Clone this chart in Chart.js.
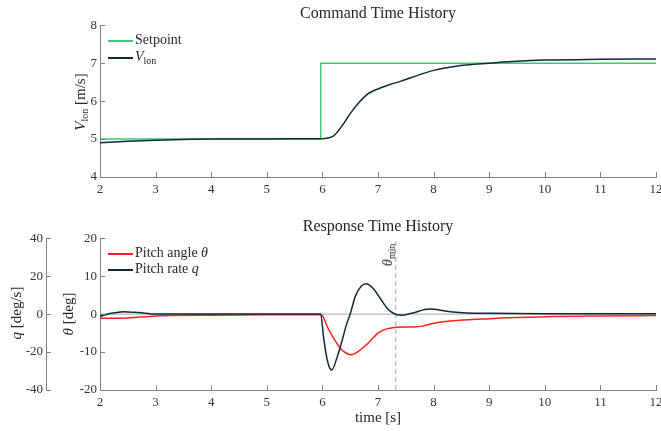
<!DOCTYPE html>
<html>
<head>
<meta charset="utf-8">
<script src="https://cdn.jsdelivr.net/npm/chart.js@4.4.1/dist/chart.umd.min.js"></script>
<style>
  body { margin: 0; background: #fff; }
  #wrap { position: relative; width: 661px; height: 431px; font-family: 'Liberation Serif', serif; color: #262626; }
  canvas { position: absolute; left: 0; }
  #top { top: 0; }
  #bottom { top: 200px; }
  .lbl { position: absolute; white-space: nowrap; font-size: 15px; line-height: 1; }
  .rot { transform: translate(-50%, -50%) rotate(-90deg); }
  .leg { position: absolute; left: 108px; font-size: 14px; line-height: 1; white-space: nowrap; transform: translateY(-50%); }
  .leg span.ln { display: inline-block; width: 25px; height: 2px; vertical-align: middle; margin-right: 2px; }
  sub { font-size: 10px; vertical-align: -3px; line-height: 0; }
  i { font-style: italic; }
</style>
</head>
<body>
<div id="wrap">
  <canvas id="top" width="661" height="200"></canvas>
  <canvas id="bottom" width="661" height="231"></canvas>

  <div class="leg" style="top:40px"><span class="ln" style="background:#3ccc6a"></span>Setpoint</div>
  <div class="leg" style="top:57px"><span class="ln" style="background:#0e2a3a"></span><i>V</i><sub>lon</sub></div>
  <div class="lbl rot" style="left:80px; top:102px"><i>V</i><sub>lon</sub> [m/s]</div>

  <div class="leg" style="top:253px"><span class="ln" style="background:#ff2020"></span>Pitch angle <i>θ</i></div>
  <div class="leg" style="top:269px"><span class="ln" style="background:#0e2a3a"></span>Pitch rate <i>q</i></div>
  <div class="lbl rot" style="left:68px; top:314px"><i>θ</i> [deg]</div>
  <div class="lbl rot" style="left:16px; top:313px"><i>q</i> [deg/s]</div>
  <div class="lbl rot" style="left:388px; top:255px; font-size:14px"><i>θ</i><sub>min</sub></div>
</div>

<script>
// command history
const timeV = [2, 2.5, 3, 3.5, 4, 5, 5.8, 6, 6.1, 6.2, 6.35, 6.5, 6.65, 6.8, 6.9, 7, 7.2, 7.4, 7.6, 8, 8.4, 9, 9.5, 10, 11, 12];
const vLon = [4.90, 4.94, 4.97, 4.99, 5.0, 5.0, 5.01, 5.01, 5.03, 5.08, 5.34, 5.67, 5.95, 6.17, 6.26, 6.32, 6.43, 6.52, 6.62, 6.81, 6.92, 7.0, 7.05, 7.08, 7.10, 7.11];
const timeSet = [2, 5.97, 5.97, 12];
const setpoint = [5, 5, 7, 7];

// response history
const timeTheta = [2, 2.35, 3, 4, 5, 5.98, 6.1, 6.22, 6.34, 6.46, 6.52, 6.64, 6.82, 7.0, 7.15, 7.3, 7.5, 7.65, 7.82, 8.0, 8.3, 9.0, 10, 11, 12];
const theta = [-1.1, -1.1, -0.5, -0.3, -0.2, -0.2, -3.7, -6.8, -9.3, -10.5, -10.7, -9.9, -7.7, -5.0, -3.9, -3.5, -3.4, -3.4, -3.1, -2.4, -1.8, -1.2, -0.7, -0.5, -0.4];
const timeQ = [2, 2.2, 2.42, 2.7, 3, 4, 5, 5.97, 6.02, 6.07, 6.12, 6.17, 6.26, 6.35, 6.43, 6.5, 6.59, 6.7, 6.79, 6.91, 7.06, 7.18, 7.31, 7.42, 7.6, 7.92, 8.3, 8.6, 9, 10, 12];
const qRate = [-1.2, 0.4, 1.3, 0.8, 0, 0, 0, 0, -12, -21.6, -27.6, -29.4, -23.2, -14.4, -5.8, 0, 9.2, 14.8, 16, 13.6, 7.4, 2.6, 0, -0.6, 0.4, 2.7, 1.3, 0.6, 0.4, 0.2, 0.2];
const thetaMinTime = 7.32;

const xTicks = [2, 3, 4, 5, 6, 7, 8, 9, 10, 11, 12];

const green = '#3ccc6a', navy = '#0e2a3a', red = '#ff2020';
const axisGray = '#808080';
const serif = 'Liberation Serif';
const tickFont = { family: serif, size: 13 };

function pts(xs, ys) {
  return xs.map((x, i) => ({ x: x, y: ys[i] }));
}

// MATLAB style: tick marks pointing into the plot
const innerTicks = {
  id: 'innerTicks',
  afterDatasetsDraw(chart) {
    const ctx = chart.ctx;
    ctx.save();
    ctx.strokeStyle = axisGray;
    ctx.lineWidth = 1;
    Object.values(chart.scales).forEach(function (s) {
      s.ticks.forEach(function (t) {
        const p = Math.round(s.getPixelForValue(t.value)) + 0.5;
        ctx.beginPath();
        if (s.isHorizontal()) {
          ctx.moveTo(p, s.top);
          ctx.lineTo(p, s.top - 5);
        } else {
          ctx.moveTo(s.right, p);
          ctx.lineTo(s.right + 5, p);
        }
        ctx.stroke();
      });
    });
    ctx.restore();
  }
};

function xScale(h, withTitle) {
  return {
    type: 'linear', min: 2, max: 12,
    afterBuildTicks(s) { s.ticks = xTicks.map(v => ({ value: v })); },
    ticks: { font: tickFont, color: '#333', padding: 5, maxRotation: 0, autoSkip: false },
    grid: { color: 'rgba(0,0,0,0)', drawTicks: false },
    border: { color: axisGray },
    title: withTitle ? { display: true, text: 'time [s]', font: { family: serif, size: 15 }, color: '#262626', padding: { top: 0, bottom: 4 } } : { display: false },
    afterFit(s) { s.height = h; s.paddingLeft = 0; s.paddingRight = 0; }
  };
}

function yScale(min, max, step, w, weight) {
  return {
    type: 'linear', position: 'left', min: min, max: max, weight: weight,
    ticks: { stepSize: step, font: tickFont, color: '#333', padding: 3 },
    grid: { color: 'rgba(0,0,0,0)', drawTicks: false, drawOnChartArea: false },
    border: { color: axisGray },
    afterFit(s) { s.width = w; s.paddingTop = 0; s.paddingBottom = 0; }
  };
}

function titleOpts(text) {
  return { display: true, text: text, fullSize: false, font: { family: serif, size: 16, weight: 'normal' }, color: '#262626', padding: { top: 4, bottom: 2 } };
}

const lineDefaults = { pointRadius: 0, borderWidth: 1.5, fill: false };

new Chart(document.getElementById('top'), {
  type: 'line',
  data: {
    datasets: [
      Object.assign({ data: pts(timeV, vLon), borderColor: navy, cubicInterpolationMode: 'monotone', order: 0 }, lineDefaults),
      Object.assign({ data: pts(timeSet, setpoint), borderColor: green, tension: 0, order: 1 }, lineDefaults)
    ]
  },
  options: {
    responsive: false, animation: false,
    layout: { padding: { left: 0, right: 5, top: 0, bottom: 0 } },
    plugins: { legend: { display: false }, tooltip: { enabled: false }, title: titleOpts('Command Time History') },
    scales: { x: xScale(23, false), y: yScale(4, 8, 1, 100, 0) }
  },
  plugins: [innerTicks]
});

new Chart(document.getElementById('bottom'), {
  type: 'line',
  data: {
    datasets: [
      Object.assign({ data: pts(timeQ, qRate), yAxisID: 'q', borderColor: navy, cubicInterpolationMode: 'monotone', order: 0 }, lineDefaults),
      Object.assign({ data: pts(timeTheta, theta), yAxisID: 'y', borderColor: red, cubicInterpolationMode: 'monotone', order: 1 }, lineDefaults),
      { data: [{ x: 2, y: 0 }, { x: 12, y: 0 }], yAxisID: 'y', borderColor: '#a6a6a6', borderWidth: 1, pointRadius: 0, order: 2 },
      { data: [{ x: thetaMinTime, y: -20 }, { x: thetaMinTime, y: 20 }], yAxisID: 'y', borderColor: '#a8a8a8', borderWidth: 1, borderDash: [5, 3], pointRadius: 0, order: 3 }
    ]
  },
  options: {
    responsive: false, animation: false,
    layout: { padding: { left: 0, right: 5, top: 13, bottom: 0 } },
    plugins: { legend: { display: false }, tooltip: { enabled: false }, title: titleOpts('Response Time History') },
    scales: {
      x: xScale(41, true),
      y: yScale(-20, 20, 10, 54, 0),
      q: yScale(-40, 40, 20, 46, 1)
    }
  },
  plugins: [innerTicks]
});
</script>
</body>
</html>
